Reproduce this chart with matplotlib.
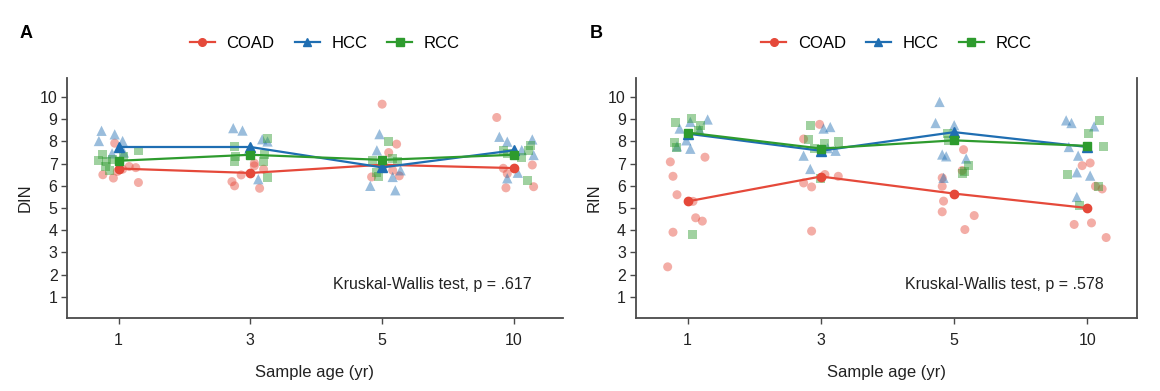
import matplotlib
matplotlib.use("Agg")
import matplotlib.pyplot as plt
from matplotlib.lines import Line2D

plt.rcParams['font.family'] = ['Liberation Sans', 'DejaVu Sans']

# ---- data ----
ages = ['1', '3', '5', '10']
groups = ['COAD', 'HCC', 'RCC']
colors = {'COAD': '#E5493A', 'HCC': '#1F6EB2', 'RCC': '#2E9B2E'}
markers = {'COAD': 'o', 'HCC': '^', 'RCC': 's'}

# DIN: individual samples per age group, with jitter offsets (category units)
din_coad = [[7.92, 6.5, 6.35, 6.65, 6.87, 6.82, 6.15, 6.75],
            [6.19, 6.0, 6.49, 6.9, 7.02, 6.75, 5.89],
            [9.68, 7.88, 7.5, 6.4, 6.45, 6.7],
            [9.08, 6.79, 5.91, 6.94, 5.96, 6.55]]
din_coad_dx = [[-0.03, -0.12, -0.04, -0.01, 0.08, 0.13, 0.15, 0.03],
               [-0.14, -0.12, -0.07, 0.03, 0.03, 0.10, 0.07],
               [0.0, 0.11, 0.05, -0.08, 0.13, 0.08],
               [-0.13, -0.08, -0.06, 0.14, 0.15, -0.05]]
din_hcc = [[8.48, 8.02, 8.32, 8.02, 7.46, 7.5],
           [8.6, 8.49, 8.1, 8.0, 6.3, 7.65],
           [8.33, 7.6, 6.0, 5.8, 6.4, 6.7],
           [8.21, 7.99, 6.34, 6.59, 7.61, 8.09, 7.39]]
din_hcc_dx = [[-0.13, -0.15, -0.03, 0.03, -0.05, 0.04],
              [-0.13, -0.06, 0.09, 0.13, 0.06, -0.01],
              [-0.02, -0.04, -0.09, 0.10, 0.08, 0.14],
              [-0.11, -0.05, -0.05, 0.03, 0.06, 0.14, 0.15]]
din_rcc = [[7.15, 7.4, 7.1, 7.2, 6.85, 6.7, 7.6, 7.3],
           [7.75, 7.1, 7.3, 8.15, 7.4, 7.1, 6.37],
           [8.0, 7.15, 6.4, 7.25, 7.1, 6.6],
           [7.6, 7.28, 6.22, 7.84, 7.59, 7.45]]
din_rcc_dx = [[-0.15, -0.12, -0.09, -0.05, -0.10, -0.07, 0.15, 0.04],
              [-0.12, -0.12, -0.11, 0.13, 0.11, 0.10, 0.13],
              [0.05, -0.07, -0.03, 0.08, 0.12, -0.04],
              [-0.08, 0.06, 0.10, 0.13, 0.11, -0.05]]
din_mean = {'COAD': [6.78, 6.58, 6.95, 6.8],
            'HCC': [7.75, 7.75, 6.83, 7.6],
            'RCC': [7.13, 7.4, 7.17, 7.4]}

# RIN
rin_coad = [[7.08, 6.43, 5.6, 3.91, 2.35, 4.56, 4.41, 7.29, 5.3],
            [8.11, 8.77, 6.13, 5.95, 3.96, 6.51, 6.43],
            [6.36, 5.98, 5.31, 4.83, 7.63, 4.03, 4.66, 6.69],
            [4.26, 4.33, 6.91, 7.03, 5.98, 5.86, 3.67]]
rin_coad_dx = [[-0.13, -0.11, -0.08, -0.11, -0.15, 0.06, 0.11, 0.13, 0.04],
               [-0.13, -0.01, -0.13, -0.07, -0.07, 0.03, 0.13],
               [-0.09, -0.09, -0.08, -0.09, 0.07, 0.08, 0.15, 0.06],
               [-0.10, 0.03, -0.04, 0.02, 0.06, 0.11, 0.14]]
rin_hcc = [[8.58, 8.88, 8.99, 8.05, 7.67, 7.78, 8.53],
           [7.36, 6.76, 8.58, 8.65, 7.7, 7.58],
           [9.78, 8.83, 8.73, 7.41, 7.33, 6.36, 7.23],
           [8.95, 8.83, 7.75, 7.36, 6.61, 5.5, 6.46, 8.68]]
rin_hcc_dx = [[-0.06, 0.02, 0.15, -0.01, 0.02, -0.08, 0.09],
              [-0.13, -0.08, 0.02, 0.07, 0.05, 0.11],
              [-0.11, -0.14, 0.0, -0.09, -0.06, -0.08, 0.09],
              [-0.16, -0.12, -0.14, -0.07, -0.08, -0.08, 0.02, 0.05]]
rin_rcc = [[8.85, 9.03, 8.73, 7.94, 7.73, 3.8, 8.5],
           [8.73, 7.93, 8.0, 7.66, 6.35, 8.08],
           [8.38, 8.05, 6.66, 6.55, 6.91],
           [6.51, 8.35, 8.94, 7.78, 5.13, 5.98]]
rin_rcc_dx = [[-0.09, 0.03, 0.10, -0.10, -0.08, 0.04, 0.08],
              [-0.08, 0.03, 0.13, -0.05, 0.0, -0.09],
              [-0.05, -0.04, 0.08, 0.06, 0.11],
              [-0.15, 0.01, 0.09, 0.12, -0.06, 0.08]]
rin_mean = {'COAD': [5.3, 6.42, 5.65, 5.0],
            'HCC': [8.35, 7.58, 8.42, 7.75],
            'RCC': [8.4, 7.68, 8.05, 7.8]}

panels = [
    dict(label='A', ylab='DIN', p='.617', mean=din_mean,
         pts={'COAD': (din_coad, din_coad_dx), 'HCC': (din_hcc, din_hcc_dx),
              'RCC': (din_rcc, din_rcc_dx)}, right_spine=False),
    dict(label='B', ylab='RIN', p='.578', mean=rin_mean,
         pts={'COAD': (rin_coad, rin_coad_dx), 'HCC': (rin_hcc, rin_hcc_dx),
              'RCC': (rin_rcc, rin_rcc_dx)}, right_spine=True),
]

fig = plt.figure(figsize=(11.6, 3.91), dpi=100)
axes = [fig.add_axes([0.058, 0.187, 0.427, 0.613]),
        fig.add_axes([0.548, 0.187, 0.432, 0.613])]
spine_col = '#4a4a4a'

for ax, pan, lx in zip(axes, panels, [0.017, 0.508]):
    xs = range(len(ages))
    for g in groups:
        vals, dxs = pan['pts'][g]
        for i, (v, d) in enumerate(zip(vals, dxs)):
            ax.scatter([i + o for o in d], v, marker=markers[g], s=42 if g != 'HCC' else 55,
                       color=colors[g], alpha=0.45, edgecolors='none', zorder=2)
    for g in groups:
        ax.plot(xs, pan['mean'][g], color=colors[g], lw=1.6, marker=markers[g],
                ms=6 if g != 'HCC' else 7, zorder=4)

    ax.set_xlim(-0.39, 3.37)
    ax.set_ylim(0.05, 10.85)
    ax.set_xticks(list(xs))
    ax.set_xticklabels(ages)
    ax.set_yticks(range(1, 11))
    ax.tick_params(axis='both', labelsize=11.5, length=4, width=1, color=spine_col,
                   labelcolor='#222222', pad=3)
    ax.tick_params(axis='x', pad=7)
    ax.spines['top'].set_visible(False)
    ax.spines['right'].set_visible(pan['right_spine'])
    for s in ['left', 'bottom', 'right']:
        ax.spines[s].set_color(spine_col)
        ax.spines[s].set_linewidth(1.3)
    ax.set_xlabel('Sample age (yr)', fontsize=12, labelpad=12, color='#222222')
    ax.set_ylabel(pan['ylab'], fontsize=12, labelpad=5, color='#222222')
    ax.text(1.63, 1.55, 'Kruskal-Wallis test, p = ' + pan['p'], fontsize=11.5,
            va='center', ha='left', color='#222222')

    handles = [Line2D([0], [0], color=colors[g], marker=markers[g], lw=1.6, ms=5.5)
               for g in groups]
    ax.legend(handles, groups, loc='lower center', bbox_to_anchor=(0.52, 1.05), ncol=3,
              frameon=False, fontsize=12, handlelength=1.5, columnspacing=1.2,
              handletextpad=0.7)
    fig.text(lx, 0.915, pan['label'], fontsize=13, fontweight='bold', va='center')

fig.savefig('out.png', dpi=100)
